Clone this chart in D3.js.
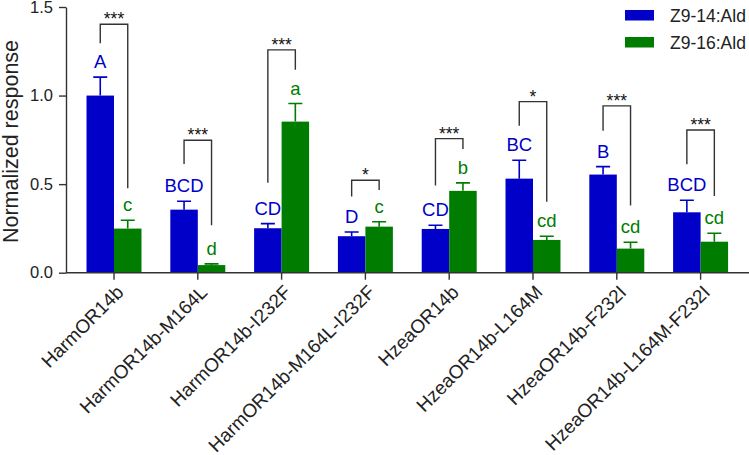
<!DOCTYPE html>
<html>
<head>
<meta charset="utf-8">
<script src="https://cdn.jsdelivr.net/npm/d3@7"></script>
<style>
  html, body { margin: 0; padding: 0; background: #fff; }
  svg { display: block; font-family: "Liberation Sans", Arial, sans-serif; }
</style>
</head>
<body>
<svg id="chart" width="749" height="455"></svg>
<script>
const categories = ["HarmOR14b", "HarmOR14b-M164L", "HarmOR14b-I232F", "HarmOR14b-M164L-I232F",
  "HzeaOR14b", "HzeaOR14b-L164M", "HzeaOR14b-F232I", "HzeaOR14b-L164M-F232I"];
const seriesNames = ["Z9-14:Ald", "Z9-16:Ald"];
const z14 = [1.0, 0.356, 0.251, 0.206, 0.247, 0.531, 0.554, 0.341];
const z14Err = [0.104, 0.047, 0.026, 0.024, 0.021, 0.104, 0.045, 0.068];
const z16 = [0.249, 0.043, 0.853, 0.260, 0.462, 0.185, 0.136, 0.175];
const z16Err = [0.047, 0.007, 0.102, 0.028, 0.045, 0.021, 0.036, 0.048];
const letters14 = ["A", "BCD", "CD", "D", "CD", "BC", "B", "BCD"];
const letters16 = ["c", "d", "a", "c", "b", "cd", "cd", "cd"];
const sigMarks = ["***", "***", "***", "*", "***", "*", "***", "***"];
const bracketTop = [1.403, 0.748, 1.258, 0.522, 0.757, 0.966, 0.942, 0.806];
const bracketLeft = [1.296, 0.614, 0.508, 0.430, 0.492, 0.829, 0.802, 0.612];
const bracketRight = [0.477, 0.268, 1.146, 0.467, 0.699, 0.401, 0.379, 0.433];
const yTicks = [0, 0.5, 1.0, 1.5];

const colors = ["#0000C8", "#007D00"];
const axisColor = "#333333";

const svg = d3.select("#chart");
const x0 = 66, yBase = 272.7, yTopPx = 7;

const x = d3.scaleBand().domain(categories).range([72.1, 72.1 + 8 * 83.8]).paddingInner(0.344).paddingOuter(0.172);
const xs = d3.scaleBand().domain(seriesNames).range([0, x.bandwidth()]);
const y = d3.scaleLinear().domain([0, 1.5]).range([yBase, yTopPx]);

const series = [
  { name: seriesNames[0], vals: z14, errs: z14Err, letters: letters14 },
  { name: seriesNames[1], vals: z16, errs: z16Err, letters: letters16 }
];

// bars
series.forEach((s, si) => {
  const g = svg.append("g");
  g.selectAll("rect").data(categories).join("rect")
    .attr("x", d => x(d) + xs(s.name))
    .attr("y", (d, i) => y(s.vals[i]))
    .attr("width", xs.bandwidth())
    .attr("height", (d, i) => y(0) - y(s.vals[i]))
    .attr("fill", colors[si]);
  // error bars
  g.selectAll("path.err").data(categories).join("path")
    .attr("class", "err")
    .attr("d", (d, i) => {
      const cx = x(d) + xs(s.name) + xs.bandwidth() / 2;
      const yt = y(s.vals[i] + s.errs[i]);
      return `M${cx},${y(s.vals[i])}V${yt}M${cx - 7},${yt}H${cx + 7}`;
    })
    .attr("stroke", colors[si]).attr("stroke-width", 1.6).attr("fill", "none");
  // letters
  g.selectAll("text.letter").data(categories).join("text")
    .attr("class", "letter")
    .attr("x", d => x(d) + xs(s.name) + xs.bandwidth() / 2)
    .attr("y", (d, i) => y(s.vals[i] + s.errs[i]) - 9)
    .attr("text-anchor", "middle")
    .attr("font-size", 18.5)
    .attr("fill", colors[si])
    .text((d, i) => s.letters[i]);
});

// significance brackets
const bg = svg.append("g");
categories.forEach((c, i) => {
  const lx = x(c) + xs(seriesNames[0]) + xs.bandwidth() / 2;
  const rx = x(c) + xs(seriesNames[1]) + xs.bandwidth() / 2;
  bg.append("path")
    .attr("d", `M${lx},${y(bracketLeft[i])}V${y(bracketTop[i])}H${rx}V${y(bracketRight[i])}`)
    .attr("stroke", axisColor).attr("stroke-width", 1.4).attr("fill", "none");
  bg.append("text")
    .attr("x", (lx + rx) / 2)
    .attr("y", y(bracketTop[i]) + 1)
    .attr("text-anchor", "middle")
    .attr("font-size", 17.5)
    .attr("fill", "#111")
    .text(sigMarks[i]);
});

// y axis
const yAxis = svg.append("g").attr("transform", `translate(${x0},0)`)
  .call(d3.axisLeft(y).tickValues(yTicks).tickFormat(d3.format(".1f")).tickSize(7).tickPadding(6).tickSizeOuter(0));
yAxis.select(".domain").attr("stroke", axisColor).attr("stroke-width", 1.4);
yAxis.selectAll(".tick line").attr("stroke", axisColor).attr("stroke-width", 1.4);
yAxis.selectAll(".tick text").attr("font-size", 16.5).attr("fill", "#222").attr("font-family", "Liberation Sans, Arial, sans-serif");

// x axis
const xAxis = svg.append("g").attr("transform", `translate(0,${yBase})`)
  .call(d3.axisBottom(x).tickSize(7).tickSizeOuter(0).tickFormat(""));
xAxis.select(".domain").attr("d", `M${x0},0H749`).attr("stroke", axisColor).attr("stroke-width", 1.4);
xAxis.selectAll(".tick line").attr("stroke", axisColor).attr("stroke-width", 1.4);

// x labels rotated
svg.append("g").selectAll("text").data(categories).join("text")
  .attr("transform", d => `translate(${x(d) + x.bandwidth() / 2 + 6},${yBase + 16}) rotate(-45)`)
  .attr("text-anchor", "end")
  .attr("dy", "0.35em")
  .attr("font-size", 19)
  .attr("fill", "#222")
  .text(d => d);

// y title
svg.append("text")
  .attr("transform", "translate(18,141.5) rotate(-90)")
  .attr("text-anchor", "middle")
  .attr("font-size", 21.5)
  .attr("fill", "#222")
  .text("Normalized response");

// legend
const lg = svg.append("g");
seriesNames.forEach((n, i) => {
  lg.append("rect").attr("x", 625).attr("y", 10 + i * 27).attr("width", 29).attr("height", 10.5).attr("fill", colors[i]);
  lg.append("text").attr("x", 670).attr("y", 21.5 + i * 27).attr("font-size", 17.5).attr("fill", "#222").text(n);
});
</script>
</body>
</html>
